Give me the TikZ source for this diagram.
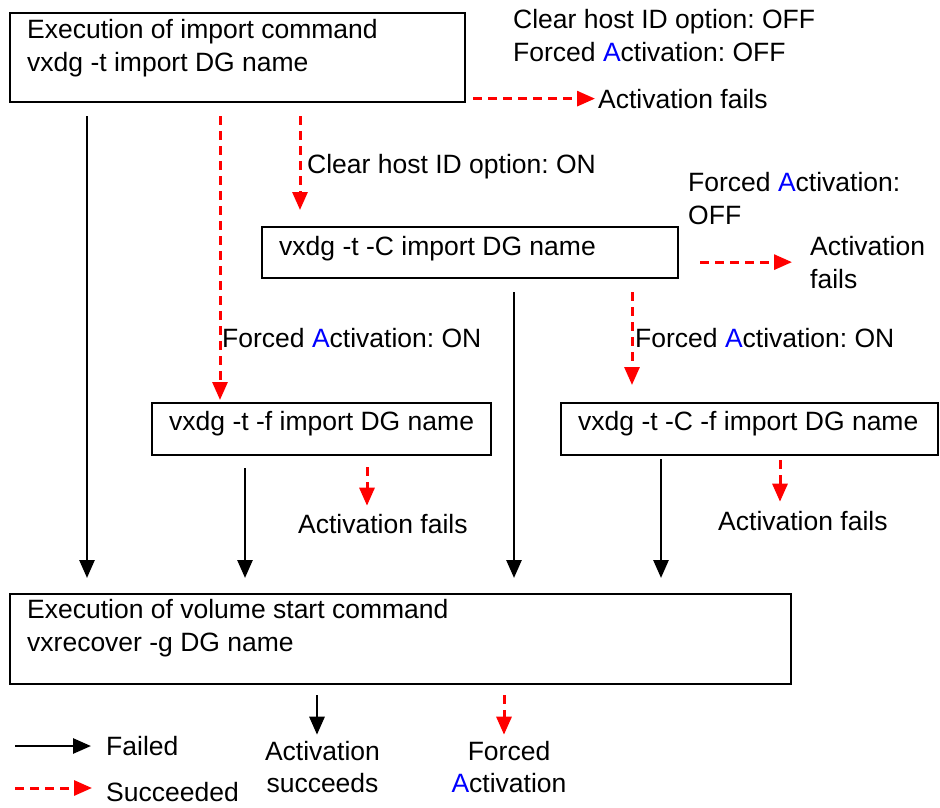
\documentclass[tikz,border=0pt]{standalone}
\usepackage{fontspec}
\setmainfont{Liberation Sans}
\usetikzlibrary{arrows.meta}
\frenchspacing
\tikzset{
  vxBox/.style={draw, line width=2.4pt, anchor=north west, inner sep=0pt, outer sep=0pt},
  vxText/.style={anchor=north west, inner sep=0pt, align=left, font=\fontsize{26.5}{33}\selectfont},
  vxTextCenter/.style={anchor=north, inner sep=0pt, align=center, font=\fontsize{26.5}{32}\selectfont},
  vxFailArrow/.style={-{Triangle[length=18pt,width=15pt]}, line width=2.8pt, shorten <=14pt, shorten >=16pt},
  vxSuccArrow/.style={-{Triangle[length=18pt,width=15pt]}, line width=3pt, red, dash pattern=on 9pt off 6pt, shorten <=14pt, shorten >=16pt}
}

\begin{document}
\begin{tikzpicture}[x=1pt, y=-1pt]
      \useasboundingbox (0,0) rectangle (940,808);
      \node[vxBox, minimum width=455pt, minimum height=89pt] (box1) at (10,13) {};
      \node[vxBox, minimum width=416pt, minimum height=51pt] (box2) at (262,227) {};
      \node[vxBox, minimum width=339pt, minimum height=52pt] (box3) at (152,403) {};
      \node[vxBox, minimum width=377pt, minimum height=52pt] (box4) at (561,403) {};
      \node[vxBox, minimum width=781pt, minimum height=90pt] (box5) at (10,594) {};
      \node[vxText] (importText) at (27,18.7) {Execution of import command\\vxdg -t import DG name};
      \node[vxText] (clearText) at (279,235.7) {vxdg -t -C import DG name};
      \node[vxText] (forcedText) at (169,410.7) {vxdg -t -f import DG name};
      \node[vxText] (clearForcedText) at (578,410.7) {vxdg -t -C -f import DG name};
      \node[vxText] (startText) at (27,598.7) {Execution of volume start command\\vxrecover -g DG name};
      \node[vxText] (optOff) at (513,9) {Clear host ID option: OFF\\Forced \textcolor{blue}{A}ctivation: OFF};
      \node[vxText] (failTop) at (598,88.7) {Activation fails};
      \node[vxText] (optOn) at (307,153.7) {Clear host ID option: ON};
      \node[vxText] (forcedOff) at (688,172.4) {Forced \textcolor{blue}{A}ctivation:\\OFF};
      \node[vxText] (failClear) at (810,235.7) {Activation\\fails};
      \node[vxText] (forcedOnLeft) at (222,327.7) {Forced \textcolor{blue}{A}ctivation: ON};
      \node[vxText] (forcedOnRight) at (635,327.7) {Forced \textcolor{blue}{A}ctivation: ON};
      \node[vxText] (failForced) at (298,513.7) {Activation fails};
      \node[vxText] (failClearForced) at (718,510.7) {Activation fails};
      \node[vxTextCenter] (succeeds) at (322.5,740.7) {Activation\\succeeds};
      \node[vxTextCenter] (forcedAct) at (509,740.7) {Forced\\\textcolor{blue}{A}ctivation};
      \node[vxText] (keyFail) at (106,735.7) {Failed};
      \node[vxText] (keySucc) at (106,782.4) {Succeeded};
      \coordinate (keyFailStart) at (15,746);
      \coordinate (keySuccStart) at (15,788);
      \draw[vxFailArrow] (87,0 |- box1.south) -- (87,0 |- box5.north);
      \draw[vxSuccArrow, shorten >=3pt] (220,0 |- box1.south) -- (220,0 |- box3.north);
      \draw[vxSuccArrow, shorten >=17pt] (300,0 |- box1.south) -- (300,0 |- box2.north);
      \draw[vxSuccArrow, shorten <=8pt, shorten >=3pt] (box1.east |- failTop.west) -- (failTop.west);
      \draw[vxSuccArrow, shorten <=22pt, shorten >=18pt] (box2.east |- failClear.west) -- (failClear.west);
      \draw[vxFailArrow] (514,0 |- box2.south) -- (514,0 |- box5.north);
      \draw[vxSuccArrow, shorten >=18pt] (632,0 |- box2.south) -- (632,0 |- box4.north);
      \draw[vxFailArrow, shorten <=13pt] (245,0 |- box3.south) -- (245,0 |- box5.north);
      \draw[vxSuccArrow, shorten <=12pt, shorten >=8pt] (367,0 |- box3.south) -- (367,0 |- failForced.north);
      \draw[vxFailArrow, shorten <=4pt] (661,0 |- box4.south) -- (661,0 |- box5.north);
      \draw[vxSuccArrow, shorten <=5pt, shorten >=9pt] (780,0 |- box4.south) -- (780,0 |- failClearForced.north);
      \draw[vxFailArrow, shorten <=11pt, shorten >=6pt] (317,0 |- box5.south) -- (317,0 |- succeeds.north);
      \draw[vxSuccArrow, shorten <=11pt, shorten >=6pt] (504,0 |- box5.south) -- (504,0 |- forcedAct.north);
      \draw[vxFailArrow, shorten <=0pt, shorten >=15pt] (keyFailStart) -- (keyFailStart -| keyFail.west);
      \draw[vxSuccArrow, shorten <=0pt, shorten >=14pt] (keySuccStart) -- (keySuccStart -| keySucc.west);
    \end{tikzpicture}
\end{document}
